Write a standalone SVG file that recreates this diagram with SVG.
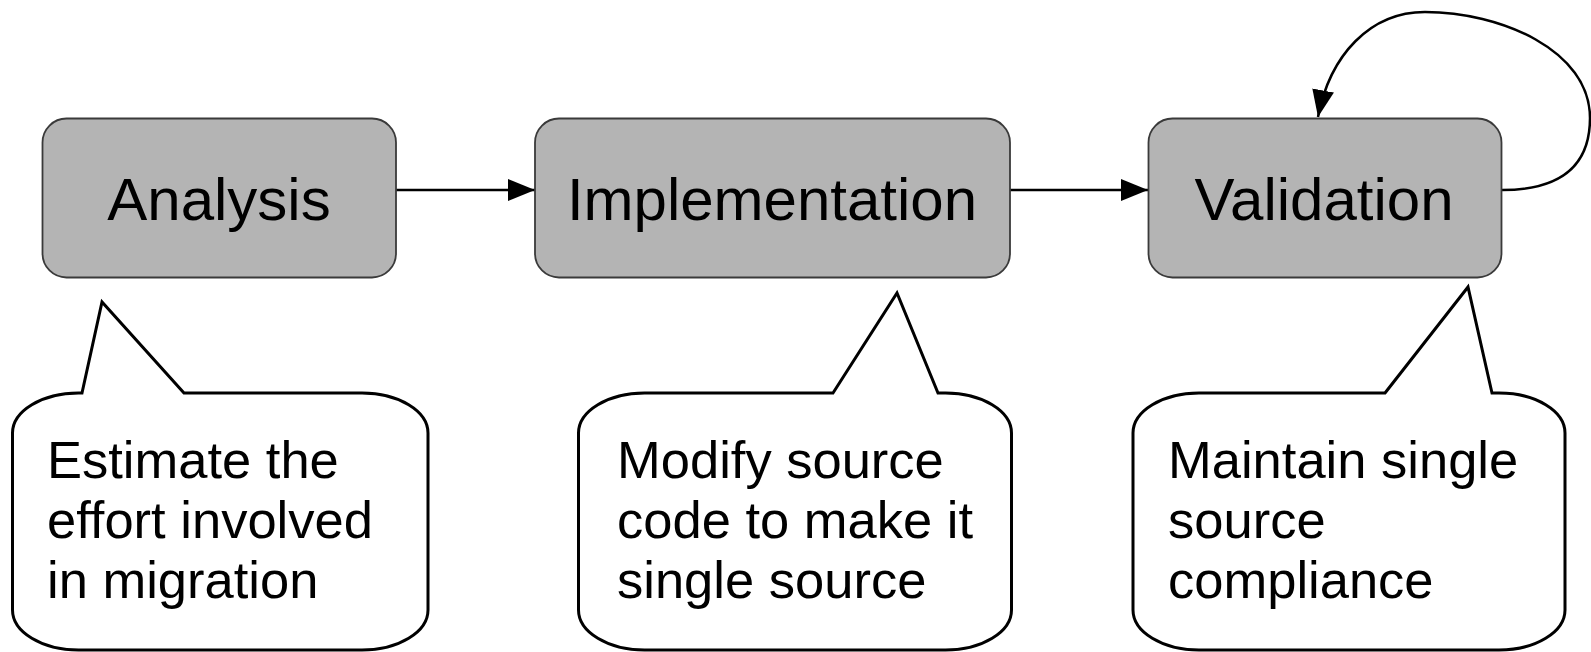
<svg xmlns="http://www.w3.org/2000/svg" width="1591" height="652" viewBox="0 0 1591 652">
<style>
.box{fill:#b4b4b4;stroke:#3a3a3a;stroke-width:1.8}
.lbl{font-family:"Liberation Sans",Arial,sans-serif;font-size:60px;fill:#000;text-anchor:middle}
.call{fill:#fff;stroke:#000;stroke-width:3;stroke-linejoin:miter}
.ctext{font-family:"Liberation Sans",Arial,sans-serif;font-size:52.5px;fill:#000}
.conn{fill:none;stroke:#000;stroke-width:2.5}
</style>
<defs>
<marker id="ah" viewBox="0 0 27 22" refX="27" refY="11" markerWidth="27" markerHeight="22" markerUnits="userSpaceOnUse" orient="auto">
<path d="M0,0 L27,11 L0,22 Z" fill="#000"/>
</marker>
</defs>
<rect width="1591" height="652" fill="#fff"/>
<g id="connectors">
<line class="conn" x1="396" y1="190" x2="535" y2="190" marker-end="url(#ah)"/>
<line class="conn" x1="1010" y1="190" x2="1148" y2="190" marker-end="url(#ah)"/>
<path class="conn" d="M1502,190 C1555,190 1590,170 1590,118 C1590,50 1500,12 1425,12 C1370,12 1330,55 1318,117" marker-end="url(#ah)"/>
</g>
<g id="analysis">
<rect class="box" x="42.5" y="118.5" width="353.5" height="159" rx="24" ry="24"/>
<text class="lbl" x="219" y="220">Analysis</text>
</g>
<g id="implementation">
<rect class="box" x="535" y="118.5" width="475" height="159" rx="24" ry="24"/>
<text class="lbl" x="772" y="220">Implementation</text>
</g>
<g id="validation">
<rect class="box" x="1148.5" y="118.5" width="353" height="159" rx="24" ry="24"/>
<text class="lbl" x="1324" y="220">Validation</text>
</g>
<g id="callout-analysis">
<path class="call" d="M82,393 L102,302 L184,393 L362,393 A66,40 0 0 1 428,433 L428,610 A66,40 0 0 1 362,650 L78.5,650 A66,40 0 0 1 12.5,610 L12.5,433 A66,40 0 0 1 78.5,393 Z"/>
<text class="ctext" x="47" y="478">Estimate the</text>
<text class="ctext" x="47" y="538">effort involved</text>
<text class="ctext" x="47" y="598">in migration</text>
</g>
<g id="callout-implementation">
<path class="call" d="M833,393 L897,293 L938,393 L945.5,393 A66,40 0 0 1 1011.5,433 L1011.5,610 A66,40 0 0 1 945.5,650 L644.5,650 A66,40 0 0 1 578.5,610 L578.5,433 A66,40 0 0 1 644.5,393 Z"/>
<text class="ctext" x="617" y="478">Modify source</text>
<text class="ctext" x="617" y="538">code to make it</text>
<text class="ctext" x="617" y="598">single source</text>
</g>
<g id="callout-validation">
<path class="call" d="M1385,393 L1468,287 L1492,393 L1499,393 A66,40 0 0 1 1565,433 L1565,610 A66,40 0 0 1 1499,650 L1199,650 A66,40 0 0 1 1133,610 L1133,433 A66,40 0 0 1 1199,393 Z"/>
<text class="ctext" x="1168" y="478">Maintain single</text>
<text class="ctext" x="1168" y="538">source</text>
<text class="ctext" x="1168" y="598">compliance</text>
</g>
</svg>
